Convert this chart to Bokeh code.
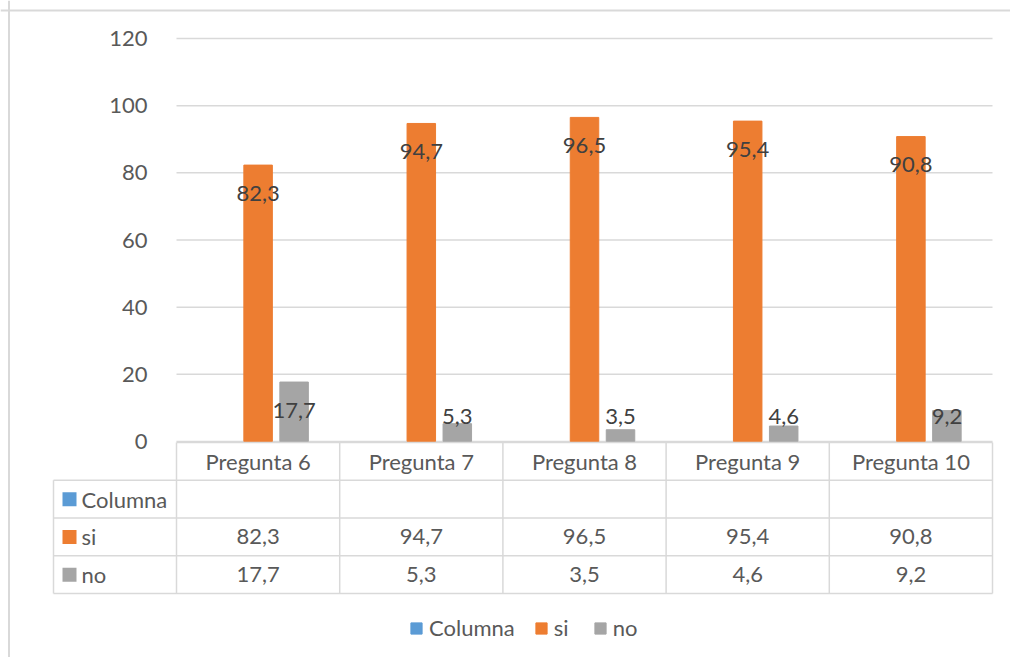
import numpy as np
from bokeh.plotting import figure
from bokeh.models import Range1d, LinearAxis, FixedTicker, Span, Legend, LegendItem
from bokeh.core.properties import value
from bokeh.embed import file_html
from bokeh.resources import INLINE

# ---------------- data ----------------
categories = ["Pregunta 6", "Pregunta 7", "Pregunta 8", "Pregunta 9", "Pregunta 10"]
series_names = ["Columna", "si", "no"]
columna = [np.nan, np.nan, np.nan, np.nan, np.nan]
si = [82.3, 94.7, 96.5, 95.4, 90.8]
no = [17.7, 5.3, 3.5, 4.6, 9.2]
yticks = [0, 20, 40, 60, 80, 100, 120]

BLUE, ORANGE, GRAY = "#5B9BD5", "#ED7D31", "#A5A5A5"
LINE = "#D9D9D9"
TXT = "#595959"
LBL = "#404040"
FONT = "Lato"
FS = "22px"

def fmt(v):
    return f"{v:.1f}".replace(".", ",")

# ---------------- geometry (canvas pixels) ----------------
W, H = 1010, 657
X0_PX = 176.0          # left edge of first category
CAT_PX = 163.2         # width of one category
Y0_PX = 441.0          # baseline y=0 (from canvas top)
UNIT_PX = 403.0 / 120  # pixels per value unit
TABLE_TOP_PX = 442.0
ROW_PX = 37.75
LABEL_COL_PX = 53.0

n = len(categories)
x_start = -X0_PX / CAT_PX
x_end = (W - X0_PX) / CAT_PX
y_end = Y0_PX / UNIT_PX
y_start = -(H - Y0_PX) / UNIT_PX
t_end = -TABLE_TOP_PX / ROW_PX
t_start = (H - TABLE_TOP_PX) / ROW_PX
L = -(X0_PX - LABEL_COL_PX) / CAT_PX

p = figure(width=W, height=H,
           x_range=Range1d(x_start, x_end), y_range=Range1d(y_start, y_end),
           x_axis_location=None, y_axis_location=None,
           toolbar_location=None, output_backend="svg", min_border=0)
p.extra_y_ranges = {"t": Range1d(t_start, t_end)}
p.outline_line_color = None
p.background_fill_color = "white"
p.border_fill_color = "white"
p.grid.visible = False
p.xgrid.visible = False
p.ygrid.visible = False

# gridlines
p.segment(x0=0, x1=n, y0=yticks, y1=yticks, line_color=LINE, line_width=1.5)

# y axis placed at x=0
yaxis = LinearAxis(fixed_location=0, ticker=FixedTicker(ticks=yticks),
                   axis_line_color=None, major_tick_line_color=None,
                   minor_tick_line_color=None, major_label_standoff=23,
                   major_label_text_font=FONT, major_label_text_font_size=FS,
                   major_label_text_color=TXT)
p.add_layout(yaxis, "left")

# bars
xc = np.arange(n) + 0.5
off = 36.0 / CAT_PX
bw = 28.5 / CAT_PX
r_col = p.vbar(x=xc - off, top=columna, width=bw, color=BLUE)
r_si = p.vbar(x=xc, top=si, width=bw, color=ORANGE)
r_no = p.vbar(x=xc + off, top=no, width=bw, color=GRAY)

# data labels (inside end, or above the base for short bars)
for vals, xs in ((si, xc), (no, xc + off)):
    ly = [max(v - 28.0 / UNIT_PX, 25.5 / UNIT_PX) for v in vals]
    p.text(x=xs, y=ly, text=[fmt(v) for v in vals], text_align="center",
           text_baseline="middle", text_font=value(FONT), text_font_size=FS,
           text_color=LBL)

# data table
hx0 = [0, L, L, L, L]
p.segment(x0=hx0, x1=[n] * 5, y0=[0, 1, 2, 3, 4], y1=[0, 1, 2, 3, 4],
          line_color=LINE, line_width=1.5, y_range_name="t")
vx = [L] + list(range(n + 1))
p.segment(x0=vx, x1=vx, y0=[1] + [0] * (n + 1), y1=[4] * (n + 2),
          line_color=LINE, line_width=1.5, y_range_name="t")

p.text(x=xc, y=[0.5] * n, text=categories, text_align="center", text_baseline="middle",
       text_font=value(FONT), text_font_size=FS, text_color=TXT, y_range_name="t")
p.text(x=xc, y=[2.5] * n, text=[fmt(v) for v in si], text_align="center",
       text_baseline="middle", text_font=value(FONT), text_font_size=FS,
       text_color=TXT, y_range_name="t")
p.text(x=xc, y=[3.5] * n, text=[fmt(v) for v in no], text_align="center",
       text_baseline="middle", text_font=value(FONT), text_font_size=FS,
       text_color=TXT, y_range_name="t")

p.scatter(x=[L + 16.0 / CAT_PX] * 3, y=[1.5, 2.5, 3.5], marker="square", size=14,
          color=[BLUE, ORANGE, GRAY], line_color=None, y_range_name="t")
p.text(x=[L + 28.0 / CAT_PX] * 3, y=[1.5, 2.5, 3.5], text=series_names,
       text_align="left", text_baseline="middle", text_font=value(FONT),
       text_font_size=FS, text_color=TXT, y_range_name="t")

# legend
legend = Legend(items=[LegendItem(label=series_names[0], renderers=[r_col]),
                       LegendItem(label=series_names[1], renderers=[r_si]),
                       LegendItem(label=series_names[2], renderers=[r_no])],
                orientation="horizontal", location=(409, 16),
                glyph_width=14, glyph_height=14, label_standoff=6, spacing=19,
                padding=0, margin=0, border_line_color=None,
                background_fill_alpha=0, label_text_font=FONT,
                label_text_font_size=FS, label_text_color=TXT, label_height=14)
p.add_layout(legend)

# chart-area border (left and top visible)
p.add_layout(Span(location=x_start + 8.5 / CAT_PX, dimension="height",
                  line_color=LINE, line_width=2))
p.add_layout(Span(location=y_end - 10.0 / UNIT_PX, dimension="width",
                  line_color=LINE, line_width=2))

open("out.html", "w").write(file_html(p, INLINE))
